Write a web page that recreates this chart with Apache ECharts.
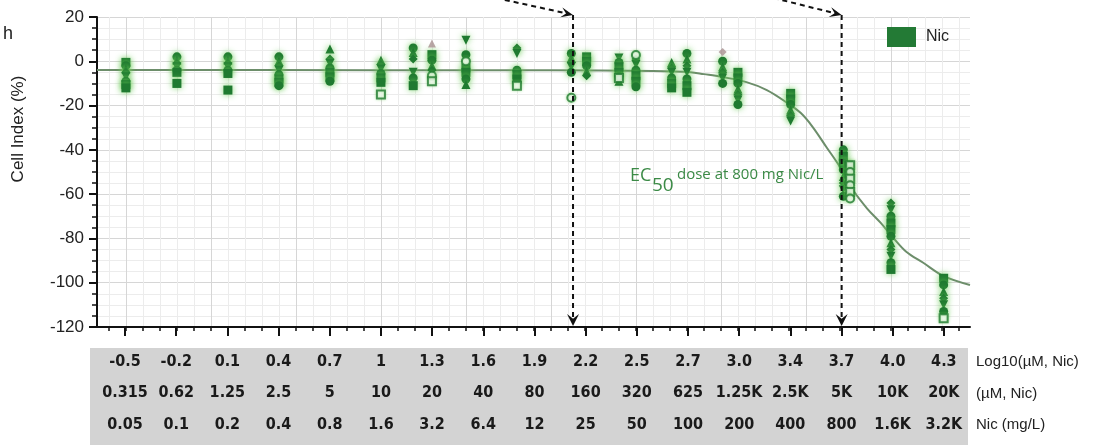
<!DOCTYPE html>
<html><head><meta charset="utf-8">
<script src="https://cdn.jsdelivr.net/npm/echarts@6/dist/echarts.min.js"></script>
<style>html,body{margin:0;padding:0;background:#fff}#c{width:1095px;height:445px}</style>
</head><body><div id="c"></div>
<script>
// ---- tick rows (doubling dilution series) ----
const tickConcUM = [0.3125, 0.625, 1.25, 2.5, 5, 10, 20, 40, 80, 160, 320, 640, 1280, 2560, 5120, 10240, 20480];
const logLabels = ["-0.5","-0.2","0.1","0.4","0.7","1","1.3","1.6","1.9","2.2","2.5","2.7","3.0","3.4","3.7","4.0","4.3"];
const umLabels  = ["0.315","0.62","1.25","2.5","5","10","20","40","80","160","320","625","1.25K","2.5K","5K","10K","20K"];
const mgLabels  = ["0.05","0.1","0.2","0.4","0.8","1.6","3.2","6.4","12","25","50","100","200","400","800","1.6K","3.2K"];
const rowTitles = ["Log10(\u00b5M, Nic)", "(\u00b5M, Nic)", "Nic (mg/L)"];

// ---- replicate measurements (x = log10 µM, values = Cell Index %) ----
const clusterLog = [-0.5, -0.2, 0.1, 0.4, 0.7, 1.0, 1.19, 1.3, 1.5, 1.8, 2.12, 2.21, 2.4, 2.5, 2.71, 2.8, 3.01, 3.1, 3.41, 3.72, 3.75, 4.0, 4.31];
const clusterVals = [
  [-0.5, -2, -3.5, -5, -7, -9, -10.5, -12],
  [2, 0.5, -1, -2.5, -4, -5, -10],
  [2, 0.5, -1, -2.5, -4, -5.5, -13],
  [2, 0, -2, -4, -6, -8, -9.5, -11],
  [5.5, 1, -1, -3, -5, -7, -9],
  [0.5, -1.5, -3.5, -5.5, -7.5, -9.5],
  [6, 4, 1, -5, -7.5, -11],
  [3, 0.5, -2, -4],
  [9.5, 3, -3, -5, -8, -10.5],
  [6, 3.5, -4, -6, -8],
  [3.5, 1.5, -0.5, -2.5, -5],
  [2, 0, -2, -4.5, -6.5],
  [1.5, -0.5, -2.5, -5, -7, -9],
  [1, -1.5, -4, -6.5, -9, -11.5],
  [-0.5, -3, -5, -7.5, -10, -12],
  [3.5, 1, -2, -5, -8, -11, -14],
  [0, -2.5, -5, -7.5, -10],
  [-5, -7.5, -10, -12.5, -15, -17.5, -19.5],
  [-14.5, -17, -19.5, -22, -24.5, -27],
  [-40, -43, -46, -49, -52, -55, -58, -61],
  [-47, -51, -55, -59],
  [-64, -67, -70, -73, -76, -79, -82, -85, -88, -91, -94],
  [-98, -101, -104, -107, -110, -113]
];
const hollowPts = [[1.0, -15], [1.3, -6.5], [1.3, -9], [1.5, 0], [1.8, -11], [2.12, -16.5], [2.4, -7.5], [2.5, 2.8], [3.76, -47], [3.76, -50], [3.76, -53], [3.76, -56], [3.76, -59], [3.76, -62], [4.31, -116]];
const grayPts = [[1.3, 8], [3.01, 4.2]];

// ---- fitted dose-response curve ----
const fitLog = [-0.67, 1.0, 2.0, 2.6, 2.82, 2.9, 3.0, 3.15, 3.27, 3.39, 3.47, 3.54, 3.62, 3.70, 3.78, 3.86, 3.94, 4.01, 4.09, 4.19, 4.31, 4.465];
const fitVal = [-3.9, -4.0, -4.1, -4.4, -4.9, -5.8, -7.0, -9.4, -13.0, -18.8, -23.4, -29.7, -38.7, -47.7, -58.5, -66.5, -73.0, -79.4, -86.0, -91.0, -97.0, -101.0];

const arrowLogs = [2.13, 3.71];
const ec50Label = ["EC", "50", "dose at 800 mg Nic/L"];

const X_MIN = -0.67, X_MAX = 4.465;
const GREEN = '#1f7a30';
const AX = '#111';
const sans = "'Liberation Sans', Arial, sans-serif";
const narrow = "'DejaVu Sans', sans-serif";

const tickPos = tickConcUM.map(c => Math.log10(c));
const majorGrid = []; for (let k = 0; k <= 9; k++) majorGrid.push(+(-0.5 + 0.5 * k).toFixed(2));
const minorGrid = []; for (let k = 0; k <= 50; k++) minorGrid.push(+(-0.6 + 0.1 * k).toFixed(2));

const shapes = ['rect', 'circle', 'triangle', 'diamond', 'path://M0,0 L10,0 L5,9 Z', 'circle', 'rect'];
const mainPts = [];
clusterLog.forEach((x, i) => clusterVals[i].forEach(v => mainPts.push([x, v])));

function nearestIdx(v) {
  let b = 0; for (let i = 1; i < tickPos.length; i++) if (Math.abs(tickPos[i] - v) < Math.abs(tickPos[b] - v)) b = i; return b;
}

const chart = echarts.init(document.getElementById('c'));
const option = {
  backgroundColor: '#fff',
  animation: false,
  grid: { left: 97, right: 125, top: 17, bottom: 118, containLabel: false },
  legend: {
    data: [{ name: 'Nic', icon: 'rect', itemStyle: { color: '#237a35', shadowBlur: 0, borderWidth: 0 } }],
    left: 887, top: 27, padding: 0, z: 20,
    itemWidth: 29, itemHeight: 20,
    textStyle: { fontSize: 16, fontFamily: sans, color: '#222', padding: [0, 0, 0, 5] }
  },
  xAxis: [
    {
      type: 'value', position: 'bottom', min: X_MIN, max: X_MAX, z: 5,
      axisLine: { onZero: false, lineStyle: { color: AX, width: 2 } },
      axisTick: { customValues: tickPos, length: 9, lineStyle: { color: AX, width: 2 } },
      axisLabel: {
        customValues: tickPos, margin: 19,
        formatter: v => { const i = nearestIdx(v); return '{a|' + logLabels[i] + '}\n{a|' + umLabels[i] + '}\n{a|' + mgLabels[i] + '}'; },
        rich: { a: { fontFamily: narrow, fontWeight: 'bold condensed', fontSize: 16, color: '#1a1a1a', lineHeight: 31.5 } }
      },
      splitLine: { show: false }
    },
    {
      type: 'value', position: 'bottom', min: X_MIN, max: X_MAX,
      axisLine: { show: false, onZero: false }, axisLabel: { show: false },
      axisTick: { customValues: minorGrid, length: 4, lineStyle: { color: AX, width: 1.5 } },
      splitLine: { show: true, lineStyle: { color: '#ececec', width: 1 } }
    },
    {
      type: 'value', position: 'bottom', min: X_MIN, max: X_MAX,
      axisLine: { show: false, onZero: false }, axisLabel: { show: false },
      axisTick: { show: false, customValues: majorGrid },
      splitLine: { show: true, lineStyle: { color: '#d6d6d6', width: 1 } }
    }
  ],
  yAxis: {
    type: 'value', min: -120, max: 20, interval: 20,
    axisLine: { show: true, onZero: false, lineStyle: { color: AX, width: 2 } },
    axisTick: { show: true, length: 8, lineStyle: { color: AX, width: 2 } },
    minorTick: { show: true, splitNumber: 4, length: 5, lineStyle: { color: AX, width: 1.5 } },
    axisLabel: { fontSize: 17, fontFamily: sans, color: '#222', margin: 13 },
    splitLine: { show: true, lineStyle: { color: '#d6d6d6', width: 1 } },
    minorSplitLine: { show: true, lineStyle: { color: '#ececec', width: 1 } }
  },
  series: [
    {
      name: 'fit', type: 'line', data: fitLog.map((x, i) => [x, fitVal[i]]), smooth: 0.35,
      showSymbol: false, lineStyle: { color: '#6d8e6b', width: 2 }, z: 2, silent: true
    },
    {
      name: 'Nic', type: 'scatter', data: mainPts, symbolSize: 9, z: 4,
      symbol: (val, p) => shapes[p.dataIndex % shapes.length],
      itemStyle: { color: GREEN, opacity: 1, shadowBlur: 6, shadowColor: 'rgba(110,205,90,0.9)' }
    },
    {
      name: 'hollow', type: 'scatter', data: hollowPts, symbolSize: 8, z: 5,
      symbol: (val, p) => p.dataIndex % 2 ? 'emptyCircle' : 'emptyRect',
      itemStyle: { color: GREEN, borderColor: GREEN, borderWidth: 1.8, shadowBlur: 3, shadowColor: 'rgba(110,205,90,0.6)' }
    },
    {
      name: 'gray', type: 'scatter', data: grayPts, symbolSize: 8, z: 4,
      symbol: (val, p) => p.dataIndex ? 'diamond' : 'triangle',
      itemStyle: { color: '#a89090' }
    }
  ]
};
chart.setOption(option);

// ---- annotations tied to axis scale ----
const px = (x, y) => chart.convertToPixel({ gridIndex: 0 }, [x, y]);
const g = [];
g.push({ type: 'rect', z: -10, silent: true, shape: { x: 90, y: 348, width: 878, height: 97 }, style: { fill: '#d3d3d3' } });
rowTitles.forEach((t, i) => g.push({ type: 'text', x: 976, y: 362 + i * 31.5, style: { text: t, fontSize: 15, fontFamily: sans, fill: '#222', verticalAlign: 'middle' } }));
g.push({ type: 'text', x: 3, y: 34, style: { text: 'h', fontSize: 18, fontFamily: sans, fill: '#222', verticalAlign: 'middle' } });
g.push({ type: 'text', x: 18, y: 129, rotation: Math.PI / 2, style: { text: 'Cell Index (%)', fontSize: 17, fontFamily: sans, fill: '#222', align: 'center', verticalAlign: 'middle' } });

const dashStyle = { stroke: '#111', lineWidth: 2, lineDash: [5, 4], fill: null };
function arrowHead(tip, from, len, half) {
  const dx = tip[0] - from[0], dy = tip[1] - from[1], L = Math.hypot(dx, dy);
  const ux = dx / L, uy = dy / L, nx = -uy, ny = ux;
  return [tip, [tip[0] - ux * len + nx * half, tip[1] - uy * len + ny * half], [tip[0] - ux * len * 0.6, tip[1] - uy * len * 0.6], [tip[0] - ux * len - nx * half, tip[1] - uy * len - ny * half]];
}
const topOff = [[-77, -17], [-68, -17]];
arrowLogs.forEach((lx, k) => {
  const top = px(lx, 20), bot = px(lx, -120);
  const x = top[0];
  const tip = [x, top[1] - 2];
  const start = [x + topOff[k][0], tip[1] + topOff[k][1]];
  g.push({ type: 'line', z: 10, shape: { x1: start[0], y1: start[1], x2: tip[0] - 5, y2: tip[1] - 1.3 }, style: dashStyle });
  g.push({ type: 'polygon', z: 10, shape: { points: arrowHead(tip, start, 12, 5) }, style: { fill: '#111' } });
  g.push({ type: 'line', z: 10, shape: { x1: x, y1: tip[1], x2: x, y2: bot[1] - 6 }, style: dashStyle });
  g.push({ type: 'polygon', z: 10, shape: { points: arrowHead([x, bot[1] - 1], [x, bot[1] - 30], 12, 6) }, style: { fill: '#111' } });
});
const ecColor = '#3b8a46';
const ecFont = "'Open Sans', 'Noto Sans', sans-serif";
g.push({ type: 'text', z: 10, x: 630, y: 176, style: { text: ec50Label[0], fontSize: 18, fontFamily: ecFont, fill: ecColor, verticalAlign: 'middle' } });
g.push({ type: 'text', z: 10, x: 652, y: 186, style: { text: ec50Label[1], fontSize: 19, fontFamily: ecFont, fill: ecColor, verticalAlign: 'middle' } });
g.push({ type: 'text', z: 10, x: 677, y: 175, style: { text: ec50Label[2], fontSize: 15, fontFamily: ecFont, fill: ecColor, verticalAlign: 'middle' } });
chart.setOption({ graphic: { elements: g } });
</script></body></html>
